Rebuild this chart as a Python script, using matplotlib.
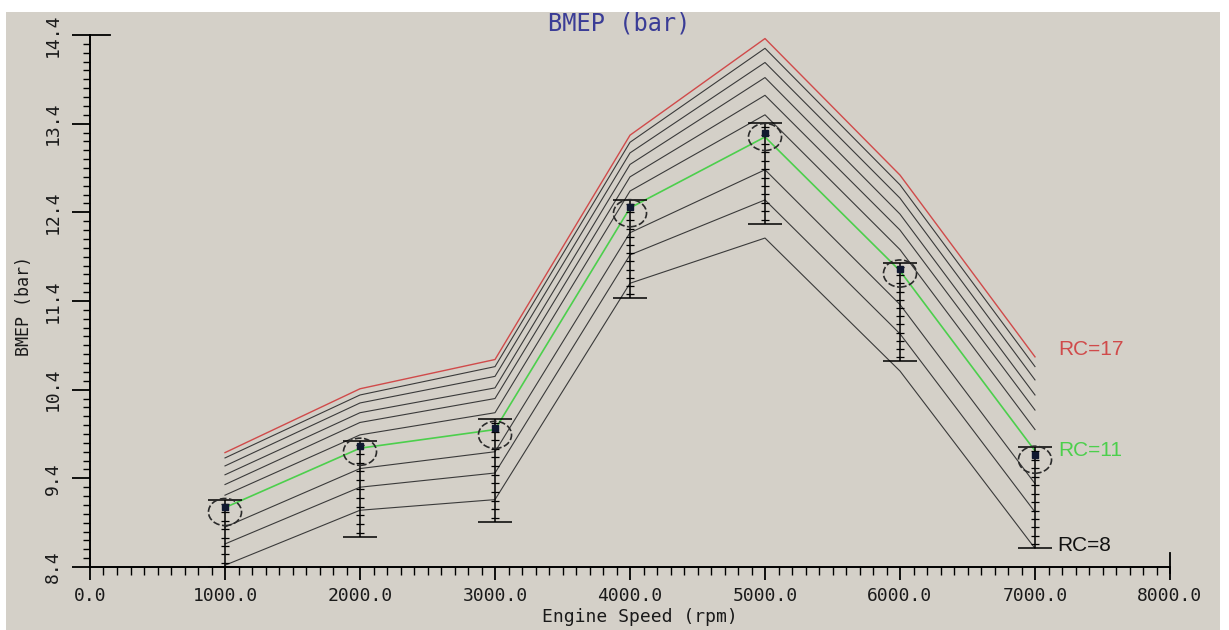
import matplotlib
matplotlib.use("Agg")
import matplotlib.pyplot as plt
import matplotlib.patheffects as pe
from matplotlib.markers import MarkerStyle
from matplotlib.transforms import Affine2D
from matplotlib.patches import Rectangle
from matplotlib.ticker import MultipleLocator, FixedLocator, FormatStrFormatter
import numpy as np

# --- data ---
engine_speed = [1000, 2000, 3000, 4000, 5000, 6000, 7000]

bmep_rc8 = [8.42, 9.04, 9.16, 11.60, 12.11, 10.61, 8.61]
bmep_rc9 = [8.66, 9.30, 9.46, 11.92, 12.54, 11.03, 9.02]
bmep_rc10 = [8.85, 9.51, 9.70, 12.17, 12.88, 11.36, 9.34]
bmep_rc11 = [9.07, 9.74, 9.95, 12.45, 13.25, 11.74, 9.71]
bmep_rc12 = [9.21, 9.89, 10.14, 12.64, 13.50, 11.98, 9.95]
bmep_rc13 = [9.33, 10.03, 10.30, 12.80, 13.72, 12.20, 10.17]
bmep_rc14 = [9.44, 10.14, 10.42, 12.94, 13.92, 12.38, 10.34]
bmep_rc15 = [9.54, 10.25, 10.55, 13.07, 14.09, 12.56, 10.51]
bmep_rc16 = [9.63, 10.34, 10.66, 13.19, 14.25, 12.71, 10.66]
bmep_rc17 = [9.69, 10.41, 10.74, 13.27, 14.36, 12.82, 10.77]

# mesures (carres), bornes des barres d'erreur, cercles
bmep_meas = [9.08, 9.76, 9.97, 12.46, 13.30, 11.76, 9.66]
bmep_err_hi = [9.16, 9.82, 10.07, 12.54, 13.41, 11.83, 9.75]
bmep_err_lo = [8.40, 8.74, 8.91, 11.43, 12.27, 10.72, 8.61]
bmep_circle = [9.02, 9.70, 9.89, 12.39, 13.25, 11.71, 9.61]

BG = "#d4d0c8"
RED = "#d04a4a"
GREEN = "#4ccf4c"
LINE = "#3a3a3a"
MONO = "DejaVu Sans Mono"

fig = plt.figure(figsize=(12.29, 6.30), dpi=100)
fig.patch.set_facecolor("white")
fig.patches.append(Rectangle((6 / 1229, 0), 1214 / 1229, 618 / 630,
                             transform=fig.transFigure, facecolor=BG,
                             edgecolor="none", zorder=-10))

ax = fig.add_axes([90 / 1229, 63 / 630, 1080 / 1229, 532 / 630])
ax.set_facecolor(BG)
ax.patch.set_alpha(0)

# courbes RC=8 ... RC=17
curves = [bmep_rc8, bmep_rc9, bmep_rc10, bmep_rc11, bmep_rc12,
          bmep_rc13, bmep_rc14, bmep_rc15, bmep_rc16, bmep_rc17]
for c in curves:
    if c is bmep_rc17:
        ax.plot(engine_speed, c, color=RED, lw=1.0, zorder=2)
    elif c is bmep_rc11:
        ax.plot(engine_speed, c, color=GREEN, lw=1.2, zorder=3)
    else:
        ax.plot(engine_speed, c, color=LINE, lw=0.8, zorder=2)

# barres d'erreur avec petites graduations
yerr = [np.array(bmep_meas) - np.array(bmep_err_lo),
        np.array(bmep_err_hi) - np.array(bmep_meas)]
eb = ax.errorbar(engine_speed, bmep_meas, yerr=yerr, fmt="none", ecolor="black",
                 elinewidth=1.1, capsize=12.5, capthick=1.1, zorder=4)
for lc in eb[2]:
    lc.set_path_effects([pe.Normal(),
                         pe.TickedStroke(spacing=5.8, angle=90, length=0.5,
                                         linewidth=0.9),
                         pe.TickedStroke(spacing=5.8, angle=-90, length=0.5,
                                         linewidth=0.9)])

ellipse = MarkerStyle("o", transform=Affine2D().scale(1.22, 1.0))
ax.scatter(engine_speed, bmep_circle, s=19.5 ** 2, marker=ellipse,
           facecolors="none", edgecolors="#2a2a2a", linewidths=1.2,
           linestyles=(0, (4, 1.5)), zorder=5)
ax.plot(engine_speed, bmep_meas, ls="none", marker="s", ms=5,
        color="#101830", zorder=6)

# axes
ax.set_xlim(0, 8000)
ax.set_ylim(8.4, 14.4)
ax.xaxis.set_major_locator(MultipleLocator(1000))
ax.xaxis.set_minor_locator(MultipleLocator(100))
ax.xaxis.set_major_formatter(FormatStrFormatter("%.1f"))
ax.yaxis.set_major_locator(FixedLocator(np.arange(8.4, 14.45, 1.0)))
ax.yaxis.set_minor_locator(MultipleLocator(0.1))
ax.yaxis.set_major_formatter(FormatStrFormatter("%.1f"))

for s in ["top", "right"]:
    ax.spines[s].set_visible(False)
for s in ["left", "bottom"]:
    ax.spines[s].set_linewidth(1.4)
    ax.spines[s].set_color("black")

ax.tick_params(axis="y", which="major", direction="out", length=13, width=1.3,
               pad=7, labelsize=13, labelrotation=90)
ax.tick_params(axis="y", which="minor", direction="out", length=5, width=1.0)
ax.tick_params(axis="x", which="major", direction="out", length=9.5, width=1.3,
               pad=5, labelsize=13)
ax.tick_params(axis="x", which="minor", direction="out", length=6, width=1.0)
for lab in ax.get_xticklabels() + ax.get_yticklabels():
    lab.set_fontfamily(MONO)
    lab.set_color("#1a1a1a")
for lab in ax.get_yticklabels():
    lab.set_verticalalignment("center")

# petits prolongements en bout d'axes
ax.plot([0, 0.0185], [1, 1], transform=ax.transAxes, color="black",
        lw=1.3, clip_on=False)
ax.plot([1, 1], [-0.011, 0.026], transform=ax.transAxes, color="black",
        lw=1.3, clip_on=False)

ax.set_xlabel("Engine Speed (rpm)", fontfamily=MONO, fontsize=13, color="#1a1a1a")
ax.xaxis.set_label_coords(0.509, -0.077)
ax.set_ylabel("BMEP (bar)", fontfamily=MONO, fontsize=12, color="#1a1a1a")
ax.yaxis.set_label_coords(-0.053, 0.49)

fig.text(0.504, 0.963, "BMEP (bar)", fontfamily=MONO, fontsize=17,
         color="#3a3c96", ha="center", va="center")

# etiquettes des courbes
ax.annotate("RC=17", xy=(engine_speed[-1], bmep_rc17[-1]), xytext=(17, 5),
            textcoords="offset points", color=RED, fontsize=15,
            fontfamily="Liberation Sans", va="center", annotation_clip=False)
ax.annotate("RC=11", xy=(engine_speed[-1], bmep_rc11[-1]), xytext=(17, 0),
            textcoords="offset points", color=GREEN, fontsize=15,
            fontfamily="Liberation Sans", va="center", annotation_clip=False)
ax.annotate("RC=8", xy=(engine_speed[-1], bmep_rc8[-1]), xytext=(16, 2),
            textcoords="offset points", color="#111111", fontsize=15,
            fontfamily="Liberation Sans", va="center", annotation_clip=False)

plt.savefig("out.png", dpi=100, facecolor=fig.get_facecolor())
plt.close()
